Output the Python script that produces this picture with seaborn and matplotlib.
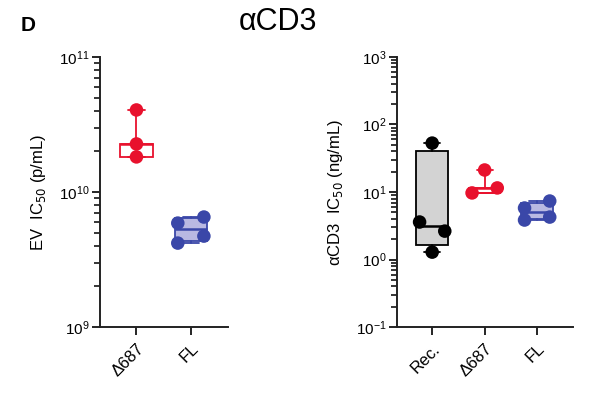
import numpy as np
import pandas as pd
import seaborn as sns
import matplotlib.pyplot as plt
from matplotlib.ticker import LogLocator, NullFormatter

# values
ev_groups = ["Δ687", "FL"]
ev_d687 = [1.82e10, 2.27e10, 4.05e10]
ev_fl = [4.19e9, 4.72e9, 5.89e9, 6.53e9]

cd3_groups = ["Rec.", "Δ687", "FL"]
cd3_rec = [1.29, 3.6, 2.64, 53.0]
cd3_d687 = [9.7, 11.5, 21.2]
cd3_fl = [3.85, 4.26, 5.8, 7.36]

RED = "#e8112d"
BLUE = "#3a47a8"
colors = {"Δ687": RED, "FL": BLUE, "Rec.": "black"}
fills = {"Δ687": "none", "FL": "#b9b9e2", "Rec.": "#d3d3d3"}
# GraphPad-like quartiles
qmethod = {"Δ687": "lower", "FL": "weibull", "Rec.": "weibull"}

sns.set_theme(style="ticks")
plt.rcParams["font.family"] = ["Liberation Sans", "DejaVu Sans"]
plt.rcParams.update({"text.color": "black", "axes.labelcolor": "black",
                     "xtick.color": "black", "ytick.color": "black",
                     "axes.unicode_minus": False})


def spread(vals, thresh, w=0.48):
    # spread overlapping points sideways, symmetric around the category
    lv = np.log10(vals)
    order = np.argsort(lv, kind="stable")
    clusters, cur = [], [order[0]]
    for i in order[1:]:
        if lv[i] - lv[cur[0]] < thresh:
            cur.append(i)
        else:
            clusters.append(cur)
            cur = [i]
    clusters.append(cur)
    off = np.zeros(len(vals))
    for c in clusters:
        c = sorted(c)
        for k, i in enumerate(c):
            off[i] = (k - (len(c) - 1) / 2) * w
    return off


def box_stats(vals, method):
    v = np.asarray(vals)
    q1, med, q3 = np.percentile(v, [25, 50, 75], method=method)
    return dict(med=med, q1=q1, q3=q3, whislo=v.min(), whishi=v.max(), fliers=[])


def panel(ax, groups, data, thresh, ylim, ylabel):
    rows = []
    for i, (g, vals) in enumerate(zip(groups, data)):
        off = spread(vals, thresh)
        for v, o in zip(vals, off):
            rows.append(dict(group=g, value=v, x=i + o))
        c = colors[g]
        ax.bxp([box_stats(vals, qmethod[g])], positions=[i], widths=0.6,
               capwidths=0.3, patch_artist=True, showfliers=False, zorder=2,
               boxprops=dict(facecolor=fills[g], edgecolor=c, linewidth=1.3),
               whiskerprops=dict(color=c, linewidth=1.3),
               capprops=dict(color=c, linewidth=1.3),
               medianprops=dict(color=c, linewidth=1.8))
    df = pd.DataFrame(rows)
    sns.scatterplot(data=df, x="x", y="value", hue="group", palette=colors,
                    s=95, linewidth=0, legend=False, zorder=3, ax=ax)
    ax.set_yscale("log")
    ax.set_ylim(*ylim)
    ax.set_xlim(-0.67, len(groups) - 1 + 0.68)
    ax.set_xticks(range(len(groups)))
    ax.set_xticklabels(groups, rotation=45, ha="right", rotation_mode="anchor",
                       fontsize=12)
    ax.set_xlabel("")
    ax.set_ylabel(ylabel, fontsize=12, labelpad=8)
    ax.yaxis.set_major_locator(LogLocator(base=10, numticks=10))
    ax.tick_params(axis="y", which="major", length=5.5, width=1.2, labelsize=11, pad=2)
    ax.tick_params(axis="x", length=6, width=1.2, pad=4)
    for s in ["top", "right"]:
        ax.spines[s].set_visible(False)
    for s in ["left", "bottom"]:
        ax.spines[s].set_linewidth(1.4)
        ax.spines[s].set_color("#222222")


fig = plt.figure(figsize=(6, 3.98), dpi=100)
ax1 = fig.add_axes([0.1667, 0.178, 0.213, 0.679])
ax2 = fig.add_axes([0.6617, 0.178, 0.293, 0.679])

panel(ax1, ev_groups, [ev_d687, ev_fl], 0.074, (1e9, 1e11),
      "EV  IC$_{50}$ (p/mL)")
panel(ax2, cd3_groups, [cd3_rec, cd3_d687, cd3_fl], 0.148, (1e-1, 1e3),
      "αCD3  IC$_{50}$ (ng/mL)")

# minor log ticks, set last so nothing resets them
for ax in (ax1, ax2):
    lo, hi = [int(round(np.log10(v))) for v in ax.get_ylim()]
    minor = [m * 10.0 ** d for d in range(lo, hi) for m in range(2, 10)]
    ax.set_yticks(minor, minor=True)
    ax.yaxis.set_minor_formatter(NullFormatter())
    ax.tick_params(axis="y", which="minor", length=4, width=1.1, left=True,
                   color="black")

fig.text(0.463, 0.945, "αCD3", ha="center", va="center", fontsize=22)
fig.text(0.035, 0.935, "D", ha="left", va="center", fontsize=15, fontweight="bold")

fig.savefig("out.png", dpi=100, facecolor="white")
